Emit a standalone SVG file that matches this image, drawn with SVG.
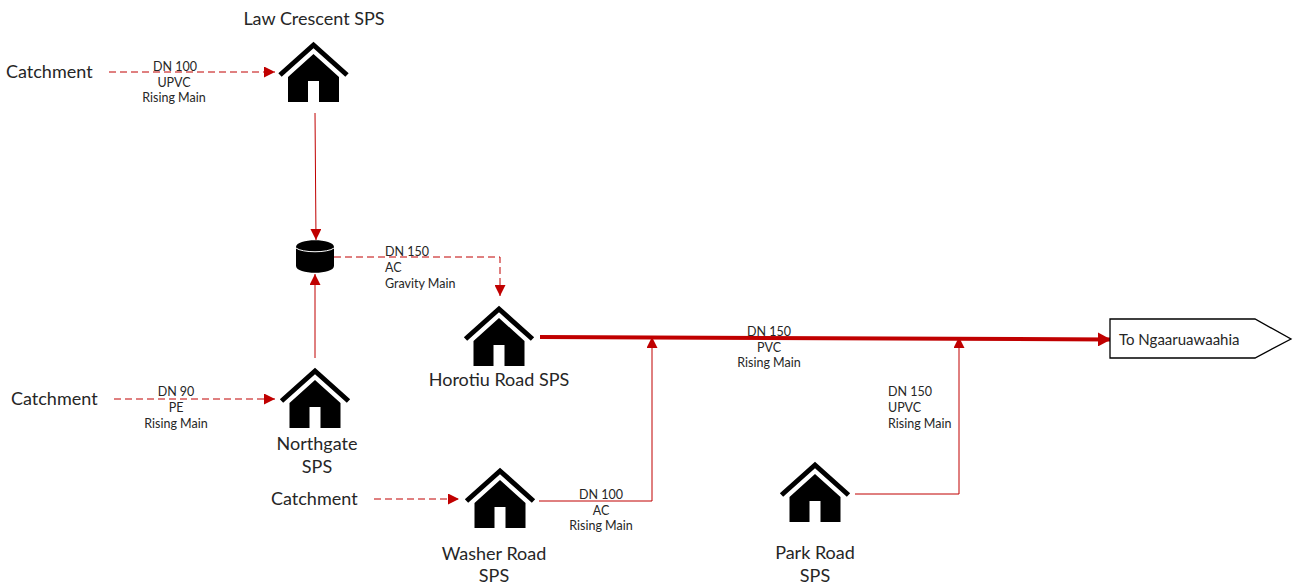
<svg xmlns="http://www.w3.org/2000/svg" width="1293" height="586" viewBox="0 0 1293 586">
<style>
text{font-family:Lato,"Open Sans","Liberation Sans",sans-serif;fill:#262626}
.t{font-size:18px}
.l{font-size:12.500px}
.m{text-anchor:middle}
.c{fill:none;stroke:#c00000;stroke-width:1}
.d{stroke-dasharray:7 4}
</style>
<defs>
<marker id="a" markerUnits="userSpaceOnUse" markerWidth="12" markerHeight="11" refX="11" refY="5.500" orient="auto"><path d="M0 0L11 5.500L0 11z" fill="#c00000"/></marker>
<marker id="b" markerUnits="userSpaceOnUse" markerWidth="14" markerHeight="14" refX="13" refY="7" orient="auto"><path d="M0 0L13 7L0 14z" fill="#c00000"/></marker>
<g id="house"><path d="M-33.500 33L0 3L33.500 33" fill="none" stroke="#000" stroke-width="5"/><path fill-rule="evenodd" d="M0 12L25.500 35V60H5.500V39H-5.500V60H-25.500V35z" fill="#000"/></g>
</defs>
<g id="connectors">
<path class="c d" d="M109 72H275" marker-end="url(#a)"/>
<path class="c" d="M315 113L316 240" marker-end="url(#a)"/>
<path class="c" d="M315 358V274" marker-end="url(#a)"/>
<path class="c d" d="M334 257H500V296" marker-end="url(#a)"/>
<path class="c d" d="M114 399H275" marker-end="url(#a)"/>
<path class="c d" d="M374 499H459" marker-end="url(#a)"/>
<path class="c" d="M539 501H652V337" marker-end="url(#a)"/>
<path class="c" d="M855 494H959V337" marker-end="url(#a)"/>
<path d="M540 337L1111 339.500" fill="none" stroke="#c00000" stroke-width="4" marker-end="url(#b)"/>
</g>
<g id="law-crescent"><use href="#house" transform="translate(313.500 42)"/><text class="t m" x="314" y="25">Law Crescent SPS</text></g>
<g id="tank"><path d="M296 247C296 238 334 238 334 247V266C334 275 296 275 296 266z" fill="#000"/><path d="M296 248C302 253 328 253 334 248" fill="none" stroke="#fff" stroke-width="1"/></g>
<g id="horotiu"><use href="#house" transform="translate(499 306)"/><text class="t m" x="499" y="386">Horotiu Road SPS</text></g>
<g id="northgate"><use href="#house" transform="translate(315 368)"/><text class="t m" x="317" y="450">Northgate</text><text class="t m" x="317" y="473">SPS</text></g>
<g id="washer"><use href="#house" transform="translate(500 468)"/><text class="t m" x="494" y="560">Washer Road</text><text class="t m" x="494" y="582">SPS</text></g>
<g id="park"><use href="#house" transform="translate(815 462)"/><text class="t m" x="815" y="559">Park Road</text><text class="t m" x="815" y="582">SPS</text></g>
<g id="to-ngaaruawaahia"><path d="M1110 319H1255L1291 339L1255 358H1110z" fill="#fff" stroke="#000" stroke-width="1.300"/><text x="1119" y="345" font-size="15px">To Ngaaruawaahia</text></g>
<g id="labels">
<text class="t" x="6" y="78">Catchment</text>
<text class="t" x="11" y="405">Catchment</text>
<text class="t" x="271" y="505">Catchment</text>
<text class="l m" x="175" y="71">DN 100</text><text class="l m" x="174" y="87">UPVC</text><text class="l m" x="174" y="102">Rising Main</text>
<text class="l" x="385" y="256">DN 150</text><text class="l" x="385" y="272">AC</text><text class="l" x="385" y="288">Gravity Main</text>
<text class="l m" x="176" y="396">DN 90</text><text class="l m" x="176" y="412">PE</text><text class="l m" x="176" y="428">Rising Main</text>
<text class="l m" x="769" y="336">DN 150</text><text class="l m" x="769" y="352">PVC</text><text class="l m" x="769" y="367">Rising Main</text>
<text class="l" x="888" y="396">DN 150</text><text class="l" x="888" y="412">UPVC</text><text class="l" x="888" y="428">Rising Main</text>
<text class="l m" x="601" y="499">DN 100</text><text class="l m" x="601" y="515">AC</text><text class="l m" x="601" y="530">Rising Main</text>
</g>
</svg>
